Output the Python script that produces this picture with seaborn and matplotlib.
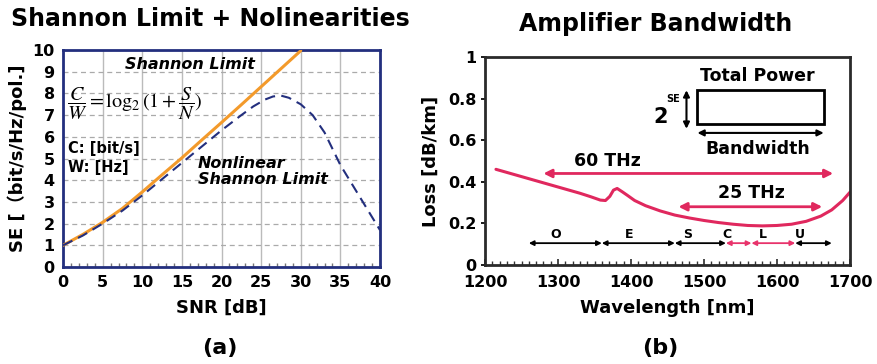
import pandas as pd
import matplotlib
matplotlib.use('Agg')
import matplotlib.pyplot as plt
import seaborn as sns
from matplotlib.ticker import MultipleLocator

# datos panel (a): SE vs SNR
snr = [0, 2.5, 5, 7.5, 10, 12.5, 15, 17.5, 20, 22.5, 25, 27.5, 30]
se_shannon = [1.0, 1.5, 2.06, 2.7, 3.46, 4.25, 5.03, 5.85, 6.66, 7.48, 8.31, 9.14, 9.97]

snr_nl = [0, 2.5, 5, 7.5, 10, 12.5, 15, 17.5, 20, 22.5, 24, 25.5, 26.5, 27.5, 28.5, 30, 31.5, 33, 35, 37.5, 40]
se_nl = [1.0, 1.45, 2.0, 2.6, 3.3, 4.05, 4.8, 5.55, 6.3, 7.0, 7.4, 7.72, 7.86, 7.9, 7.8, 7.5, 7.0, 6.2, 4.7, 3.2, 1.7]

# datos panel (b): perdida de la fibra
wl = [1215, 1230, 1250, 1270, 1290, 1310, 1330, 1345, 1358, 1365, 1371, 1376, 1381, 1388, 1395,
      1405, 1420, 1440, 1460, 1480, 1500, 1520, 1540, 1560, 1580, 1600, 1620, 1640, 1660, 1675, 1690, 1700]
loss = [0.46, 0.445, 0.425, 0.405, 0.385, 0.365, 0.345, 0.328, 0.312, 0.31, 0.33, 0.36, 0.368, 0.352, 0.335,
        0.31, 0.285, 0.26, 0.24, 0.226, 0.214, 0.204, 0.196, 0.19, 0.188, 0.19, 0.196, 0.21, 0.235, 0.265, 0.31, 0.35]

bandas = ['O', 'E', 'S', 'C', 'L', 'U']
banda_ini = [1260, 1360, 1460, 1530, 1565, 1625]
banda_fin = [1360, 1460, 1530, 1565, 1625, 1675]
banda_color = ['black', 'black', 'black', '#E8336B', '#E8336B', 'black']
banda_lbl_x = [1297, 1397, 1478, 1532, 1580, 1632]

rosa = '#E0285E'
naranja = '#F39A2B'
azul = '#232F7E'

sns.set_theme(style="white")
plt.rcParams['font.family'] = ['DejaVu Sans', 'Noto Sans CJK SC']
plt.rcParams['mathtext.fontset'] = 'stix'
plt.rcParams['text.color'] = 'black'
plt.rcParams['axes.labelcolor'] = 'black'
plt.rcParams['xtick.color'] = 'black'
plt.rcParams['ytick.color'] = 'black'

fig = plt.figure(figsize=(8.78, 3.64), dpi=100)

# ---------------- panel (a)
ax1 = fig.add_axes([0.0718, 0.2665, 0.361, 0.596])
df_s = pd.DataFrame({'snr': snr, 'se': se_shannon})
df_n = pd.DataFrame({'snr': snr_nl, 'se': se_nl})
sns.lineplot(data=df_s, x='snr', y='se', ax=ax1, color=naranja, linewidth=2.2, zorder=3)
sns.lineplot(data=df_n, x='snr', y='se', ax=ax1, color=azul, linewidth=1.5, linestyle=(0, (5, 3)), zorder=3)

ax1.set_xlim(0, 40)
ax1.set_ylim(0, 10)
ax1.xaxis.set_major_locator(MultipleLocator(5))
ax1.xaxis.set_minor_locator(MultipleLocator(1))
ax1.yaxis.set_major_locator(MultipleLocator(1))
ax1.grid(axis='x', which='major', color='#BBBBBB', linewidth=1, linestyle='-')
ax1.grid(axis='y', which='major', color='#AAAAAA', linewidth=0.9, linestyle=(0, (4, 3)))
ax1.tick_params(axis='x', which='minor', direction='in', length=3, bottom=True, color='#777777')
ax1.tick_params(axis='both', which='major', length=0, labelsize=11.5, pad=6)
for s in ax1.spines.values():
    s.set_color(azul)
    s.set_linewidth(2)
for lab in ax1.get_xticklabels() + ax1.get_yticklabels():
    lab.set_fontweight('bold')
ax1.set_xlabel('SNR [dB]', fontsize=13, fontweight='bold', labelpad=6)
ax1.set_ylabel('SE [（bit/s/Hz/pol.]', fontsize=13, fontweight='bold', labelpad=4)
ax1.set_title('Shannon Limit + Nolinearities', fontsize=17, fontweight='bold', pad=17, x=0.465)

ax1.text(16, 9.35, 'Shannon Limit', fontsize=11.5, fontweight='bold', style='italic', ha='center', va='center')
ax1.text(17, 4.4, 'Nonlinear\nShannon Limit', fontsize=11.5, fontweight='bold', style='italic',
         ha='left', va='center', linespacing=1.1)
ax1.text(0.5, 7.5, r'$\dfrac{C}{W} = \log_2(1+\dfrac{S}{N})$', fontsize=14.5, ha='left', va='center')
ax1.text(0.6, 5.45, 'C: [bit/s]', fontsize=10.5, fontweight='bold', ha='left', va='center')
ax1.text(0.6, 4.6, 'W: [Hz]', fontsize=10.5, fontweight='bold', ha='left', va='center')
fig.text(0.25, 0.045, '(a)', fontsize=16, fontweight='bold', ha='center', va='center')

# ---------------- panel (b)
ax2 = fig.add_axes([0.5524, 0.272, 0.4157, 0.5714])
df_l = pd.DataFrame({'wl': wl, 'loss': loss})
sns.lineplot(data=df_l, x='wl', y='loss', ax=ax2, color=rosa, linewidth=2.2)
ax2.set_xlim(1200, 1700)
ax2.set_ylim(0, 1)
ax2.xaxis.set_major_locator(MultipleLocator(100))
ax2.xaxis.set_minor_locator(MultipleLocator(10))
ax2.set_yticks([0, 0.2, 0.4, 0.6, 0.8, 1])
ax2.set_yticklabels(['0', '0.2', '0.4', '0.6', '0.8', '1'])
ax2.tick_params(axis='x', which='minor', direction='in', length=3, bottom=True, color='#333333')
ax2.tick_params(axis='x', which='major', direction='in', length=4, bottom=True, color='#333333',
                labelsize=11.5, pad=7)
ax2.tick_params(axis='y', which='major', direction='out', length=3, left=True, labelsize=11.5, pad=3)
for s in ax2.spines.values():
    s.set_color('#2A2A2A')
    s.set_linewidth(2)
for lab in ax2.get_xticklabels() + ax2.get_yticklabels():
    lab.set_fontweight('bold')
ax2.set_xlabel('Wavelength [nm]', fontsize=13, fontweight='bold', labelpad=7)
ax2.set_ylabel('Loss [dB/km]', fontsize=13, fontweight='bold', labelpad=6)
ax2.set_title('Amplifier Bandwidth', fontsize=17, fontweight='bold', pad=19, x=0.467)

flecha = dict(arrowstyle='<|-|>', color=rosa, linewidth=2, mutation_scale=12, shrinkA=0, shrinkB=0)
ax2.annotate('', xy=(1280, 0.44), xytext=(1677, 0.44), arrowprops=flecha)
ax2.text(1368, 0.50, '60 THz', fontsize=12.5, fontweight='bold', ha='center', va='center')
ax2.annotate('', xy=(1465, 0.28), xytext=(1662, 0.28), arrowprops=flecha)
ax2.text(1565, 0.345, '25 THz', fontsize=12.5, fontweight='bold', ha='center', va='center')

for nombre, x0, x1, col, xl in zip(bandas, banda_ini, banda_fin, banda_color, banda_lbl_x):
    ax2.annotate('', xy=(x0, 0.105), xytext=(x1, 0.105),
                 arrowprops=dict(arrowstyle='<|-|>', color=col, linewidth=1.3, mutation_scale=7,
                                 shrinkA=0, shrinkB=0))
    ax2.text(xl, 0.148, nombre, fontsize=9, fontweight='bold', ha='center', va='center')

# recuadro Total Power
ax2.add_patch(plt.Rectangle((1491, 0.68), 173, 0.16, fill=False, edgecolor='black', linewidth=2))
ax2.text(1573, 0.91, 'Total Power', fontsize=12.5, fontweight='bold', ha='center', va='center')
ax2.annotate('', xy=(1491, 0.635), xytext=(1664, 0.635),
             arrowprops=dict(arrowstyle='<|-|>', color='black', linewidth=1.5, mutation_scale=9,
                             shrinkA=0, shrinkB=0))
ax2.text(1573, 0.56, 'Bandwidth', fontsize=12.5, fontweight='bold', ha='center', va='center')
ax2.annotate('', xy=(1476, 0.84), xytext=(1476, 0.655),
             arrowprops=dict(arrowstyle='<|-|>', color='black', linewidth=1.5, mutation_scale=9,
                             shrinkA=0, shrinkB=0))
ax2.text(1458, 0.80, 'SE', fontsize=7, fontweight='bold', ha='center', va='center')
ax2.text(1440, 0.71, '2', fontsize=15, fontweight='bold', ha='center', va='center')
fig.text(0.752, 0.045, '(b)', fontsize=16, fontweight='bold', ha='center', va='center')

plt.savefig('out.png', dpi=100)
plt.close()
